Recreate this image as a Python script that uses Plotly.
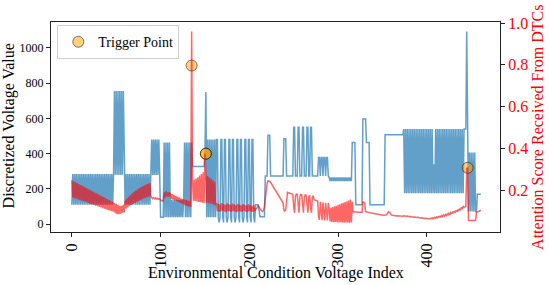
import plotly.graph_objects as go

# Discretized voltage value per index
voltage = [
    110, 285, 110, 285, 110, 285, 110, 285, 110, 285, 110, 285,
    110, 285, 110, 285, 110, 285, 110, 285, 110, 285, 110, 285,
    110, 285, 110, 285, 110, 285, 110, 285, 110, 285, 110, 285,
    110, 285, 110, 285, 110, 285, 110, 285, 110, 285, 110, 285,
    755, 280, 755, 280, 755, 280, 755, 280, 755, 280, 755, 280,
    110, 285, 110, 285, 110, 285, 110, 285, 110, 285, 110, 285,
    110, 285, 110, 285, 110, 285, 110, 285, 110, 285, 110, 285,
    110, 285, 110, 285, 110, 285,
    480, 280, 480, 280, 480, 280, 480, 280, 480, 280,
    40, 40, 40, 40,
    464, 40, 464, 40, 464, 40, 464,
    40, 138, 40, 138, 40, 138, 40, 138, 40, 138, 40, 138, 40, 138, 40, 138,
    464, 40, 464, 40, 464, 40, 464, 40, 464,
    327, 327, 327, 327, 327, 327, 327, 327, 327, 327, 327, 327, 327, 327,
    400,
    750,
    40, 480, 40, 480, 40, 480, 40, 480, 40, 480, 40,
    480, 480, 40, 10, 40, 480, 480, 40, 10,
    480, 480, 40, 10, 40, 480, 480, 40, 10,
    480, 480, 40, 10, 40, 480, 480, 40, 10,
    480, 480, 40, 10, 40, 480, 480, 40, 10,
    480, 480, 40, 10, 480, 480, 40, 10,
    110, 110, 110, 110,
    80,
    43, 43, 43, 43, 43, 43,
    274, 274, 274,
    505, 505, 505,
    274, 274, 274, 274, 274, 274, 274, 274, 274, 274, 274, 274, 274, 274, 274,
    485, 485, 485,
    274, 274, 274, 274, 274, 274, 274, 274,
    550, 550, 274, 274, 274, 550, 550, 274, 274, 274, 550, 550, 274, 274, 274,
    550, 550, 274, 274, 550, 550, 274, 274,
    274, 274, 274, 274, 274,
    378, 378, 274, 378, 378, 274, 378, 378, 274, 378, 378, 274,
    265, 245, 265, 245, 265, 245, 265, 245, 265, 245, 265, 245, 265, 245,
    265, 245, 265, 245, 265, 245, 265, 245, 265, 245, 265, 245,
    463, 463, 463, 463,
    110, 110, 110, 110, 110, 110, 110, 110,
    597, 597, 597, 597,
    463, 463, 463, 463,
    110, 110, 110, 110, 110, 110, 110, 110, 110, 110, 110, 110, 110, 110, 110, 110, 110,
    507, 507, 507, 507, 507, 507, 507, 507, 507, 507, 507, 507, 507, 507, 507, 507,
    507, 507, 507, 507, 507,
    540, 176, 540, 176, 540, 176, 540, 176, 540, 176, 540, 176, 540, 176, 540, 176,
    540, 176, 540, 176, 540, 176, 540, 176, 540, 176, 540, 176, 540, 176, 540, 176,
    540, 176,
    340, 176,
    540, 176, 540, 176, 540, 176, 540, 176, 540, 176, 540, 176, 540, 176, 540, 176,
    540, 176, 540, 176, 540, 176, 540, 176, 540, 176, 540, 176, 540, 176, 540, 176,
    540, 540, 540,
    1093,
    407,
    72, 407, 72, 407, 72, 407, 72, 407, 72,
    72,
    170, 170, 170, 170, 170,
]

# Attention score received from DTCs per index
attention = [
    0.248, 0.165, 0.243, 0.162, 0.239, 0.159, 0.234, 0.156, 0.230, 0.153, 0.225, 0.150,
    0.221, 0.147, 0.216, 0.144, 0.212, 0.141, 0.207, 0.138, 0.203, 0.135, 0.198, 0.132,
    0.194, 0.129, 0.189, 0.126, 0.185, 0.123, 0.180, 0.120, 0.176, 0.117, 0.171, 0.114,
    0.167, 0.111, 0.162, 0.108, 0.158, 0.105, 0.153, 0.102, 0.149, 0.099, 0.144, 0.097,
    0.140, 0.090, 0.135, 0.085, 0.130, 0.085, 0.125, 0.088, 0.125, 0.092, 0.130, 0.095,
    0.150, 0.112, 0.160, 0.118, 0.169, 0.124, 0.177, 0.129, 0.185, 0.134, 0.192, 0.139,
    0.198, 0.144, 0.204, 0.148, 0.210, 0.152, 0.215, 0.156, 0.220, 0.160, 0.224, 0.163,
    0.228, 0.166, 0.231, 0.169, 0.234, 0.172,
    0.165, 0.160, 0.164, 0.159, 0.163, 0.158, 0.162, 0.157, 0.160, 0.156,
    0.152, 0.150, 0.148, 0.150,
    0.190, 0.165, 0.195, 0.170, 0.190, 0.168, 0.188,
    0.185, 0.158, 0.181, 0.155, 0.177, 0.151, 0.173, 0.148,
    0.169, 0.144, 0.165, 0.140, 0.161, 0.136, 0.157, 0.132,
    0.155, 0.128, 0.152, 0.125, 0.150, 0.122, 0.148, 0.120,
    0.960,
    0.245, 0.150, 0.250, 0.148, 0.256, 0.146, 0.262, 0.144, 0.270, 0.142, 0.278, 0.140,
    0.286, 0.138,
    0.376,
    0.272, 0.140, 0.268, 0.138, 0.262, 0.136, 0.255, 0.134, 0.248, 0.131, 0.240, 0.128,
    0.140, 0.100, 0.136, 0.096, 0.132, 0.098, 0.138, 0.102, 0.134, 0.097, 0.130, 0.095,
    0.137, 0.100, 0.133, 0.098, 0.129, 0.096, 0.136, 0.101, 0.132, 0.097, 0.128, 0.095,
    0.135, 0.100, 0.131, 0.098, 0.127, 0.096, 0.134, 0.101, 0.130, 0.097, 0.126, 0.095,
    0.133, 0.100, 0.129, 0.098, 0.125, 0.096, 0.128, 0.100,
    0.110, 0.112, 0.118, 0.125, 0.120, 0.110, 0.105, 0.100, 0.098, 0.105, 0.120,
    0.160, 0.200, 0.230, 0.245,
    0.245, 0.242, 0.238, 0.232, 0.225, 0.218, 0.210, 0.202, 0.195, 0.188, 0.180, 0.173,
    0.166, 0.158, 0.150, 0.145, 0.140,
    0.105, 0.100, 0.105, 0.150,
    0.190, 0.188, 0.186, 0.185, 0.183, 0.182, 0.180,
    0.120, 0.092, 0.172, 0.182, 0.180, 0.120, 0.092, 0.170, 0.180, 0.178,
    0.118, 0.092, 0.168, 0.178, 0.176, 0.118, 0.092, 0.168, 0.176,
    0.116, 0.092, 0.166, 0.174,
    0.155, 0.153, 0.151, 0.150, 0.148,
    0.075, 0.058, 0.145, 0.072, 0.056, 0.142, 0.070, 0.055, 0.140, 0.068, 0.055, 0.138,
    0.112, 0.050, 0.116, 0.048, 0.119, 0.047, 0.123, 0.048, 0.126, 0.047, 0.130, 0.046,
    0.133, 0.047, 0.137, 0.046, 0.140, 0.045, 0.144, 0.046, 0.147, 0.045, 0.151, 0.045,
    0.155, 0.046,
    0.145,
    0.097, 0.096, 0.096, 0.095, 0.096, 0.095, 0.094, 0.095, 0.094, 0.094, 0.095,
    0.144, 0.144, 0.140, 0.100,
    0.096, 0.096, 0.095, 0.094,
    0.092, 0.091, 0.090, 0.089, 0.088, 0.087, 0.086, 0.085, 0.084, 0.083, 0.083, 0.082,
    0.082, 0.081, 0.081, 0.080, 0.080,
    0.080, 0.081, 0.085, 0.095, 0.097, 0.094, 0.085, 0.082, 0.080, 0.079, 0.080, 0.078,
    0.079, 0.077, 0.078, 0.076, 0.077, 0.076, 0.075, 0.076, 0.075,
    0.078, 0.076, 0.077, 0.075, 0.076, 0.074, 0.075, 0.073, 0.074, 0.072, 0.073, 0.071,
    0.072, 0.070, 0.071, 0.069, 0.070, 0.068, 0.069, 0.067, 0.068, 0.066, 0.067, 0.065,
    0.066, 0.064, 0.065, 0.063, 0.064, 0.062, 0.064,
    0.066, 0.063, 0.068, 0.065, 0.070, 0.066, 0.072, 0.068, 0.074, 0.070, 0.076, 0.072,
    0.079, 0.074, 0.081, 0.076, 0.084, 0.079, 0.087, 0.081, 0.090, 0.084, 0.093, 0.087,
    0.097, 0.090, 0.100, 0.093, 0.104, 0.097, 0.108, 0.100, 0.112, 0.104, 0.118, 0.110,
    0.125,
    0.118, 0.120, 0.122,
    0.305, 0.305,
    0.056, 0.055, 0.056, 0.055, 0.056, 0.055, 0.056, 0.055, 0.056,
    0.095,
    0.096, 0.098, 0.100, 0.102, 0.104,
]

# Trigger points (index, voltage value)
trigger_x = [135, 151, 446]
trigger_y = [900, 400, 320]

x_ticks = [0, 100, 200, 300, 400]
y_ticks = [0, 200, 400, 600, 800, 1000]
y2_ticks = [0.2, 0.4, 0.6, 0.8, 1.0]

FONT = "Liberation Serif"

fig = go.Figure()
fig.add_trace(go.Scatter(
    x=list(range(len(voltage))), y=voltage, mode="lines",
    line=dict(color="rgba(31,119,180,0.7)", width=1.5),
    showlegend=False, yaxis="y"))
fig.add_trace(go.Scatter(
    x=trigger_x, y=trigger_y, mode="markers", name="Trigger Point",
    marker=dict(size=11, color="rgba(255,165,0,0.5)",
                line=dict(color="rgba(0,0,0,0.5)", width=1)),
    yaxis="y"))
# the middle trigger point is drawn twice in the original (darker)
fig.add_trace(go.Scatter(
    x=trigger_x[1:2], y=trigger_y[1:2], mode="markers", showlegend=False,
    marker=dict(size=11, color="rgba(255,165,0,0.5)",
                line=dict(color="rgba(0,0,0,0.5)", width=1)),
    yaxis="y"))
fig.add_trace(go.Scatter(
    x=list(range(len(attention))), y=attention, mode="lines",
    line=dict(color="rgba(255,0,0,0.6)", width=1.5),
    showlegend=False, yaxis="y2"))

axis_common = dict(showgrid=False, zeroline=False, showline=True,
                   linecolor="#222", linewidth=1, ticks="outside",
                   ticklen=4, tickcolor="#222", automargin=False)

fig.update_layout(
    width=549, height=285,
    margin=dict(l=51, r=49, t=22, b=53, autoexpand=False),
    paper_bgcolor="white", plot_bgcolor="white",
    font=dict(family=FONT, color="black"),
    xaxis=dict(range=[-23.5, 482.5], tickvals=x_ticks, tickangle=-90,
               tickfont=dict(size=16, family=FONT, color="black"),
               mirror=True, **axis_common),
    yaxis=dict(range=[-44, 1147], tickvals=y_ticks,
               tickfont=dict(size=12, family=FONT, color="black"),
               mirror=True, **axis_common),
    yaxis2=dict(range=[0.0, 1.005], tickvals=y2_ticks, tickformat=".1f",
                overlaying="y", side="right",
                tickfont=dict(size=16, family=FONT, color="red"), **axis_common),
    legend=dict(x=0.014, y=0.985, xanchor="left", yanchor="top",
                bgcolor="rgba(255,255,255,0.8)", bordercolor="#d0d0d0",
                borderwidth=1, font=dict(size=14, family=FONT, color="black")),
    annotations=[
        dict(text="Environmental Condition Voltage Index", xref="paper", yref="paper",
             x=0.5, y=-0.195, xanchor="center", yanchor="middle", showarrow=False,
             font=dict(size=16, family=FONT, color="black")),
        dict(text="Discretized Voltage Value", xref="paper", yref="paper",
             x=-0.0935, y=0.503, xanchor="center", yanchor="middle", showarrow=False,
             textangle=-90, font=dict(size=16, family=FONT, color="black")),
        dict(text="Attention Score Received From DTCs", xref="paper", yref="paper",
             x=1.0835, y=0.498, xanchor="center", yanchor="middle", showarrow=False,
             textangle=-90, font=dict(size=16, family=FONT, color="red")),
    ],
)

fig.write_html(
    "out.html",
    config={"displayModeBar": False},
    post_script="document.body.style.margin='0';document.body.style.padding='0';"
                "document.body.style.overflow='hidden';",
)
